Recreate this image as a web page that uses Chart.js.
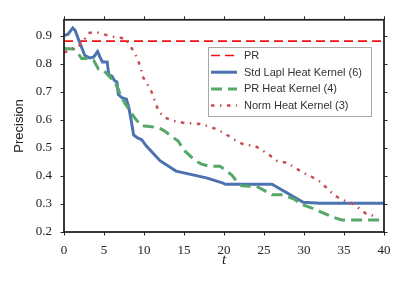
<!DOCTYPE html>
<html>
<head>
<meta charset="utf-8">
<script src="https://cdn.jsdelivr.net/npm/chart.js@4/dist/chart.umd.min.js"></script>
<style>
  html, body { margin: 0; padding: 0; background: #fff; }
  canvas { display: block; }
</style>
</head>
<body>
<canvas id="chart" width="405" height="292"></canvas>
<script>
"use strict";

// ─── Data ─────────────────────────────────────────────────────────────────

const xTicks = [0, 5, 10, 15, 20, 25, 30, 35, 40];
const yTicks = [0.2, 0.3, 0.4, 0.5, 0.6, 0.7, 0.8, 0.9];

const prT = [0, 40];
const prV = [0.88, 0.88];

const stdT = [0, 0.5, 1.1, 1.4, 1.8, 2.6, 3.2, 3.7, 4.2, 4.5, 4.8, 5.4, 5.6, 6.0, 6.3, 6.6, 6.8,
  7.2, 7.8, 8.1, 8.4, 8.7, 9.2, 9.7, 10.3, 12, 14, 17.8, 19.8, 20.2, 26, 29.9, 32, 40];
const stdV = [0.90, 0.905, 0.927, 0.918, 0.887, 0.829, 0.82, 0.823, 0.843, 0.823, 0.806, 0.806,
  0.76, 0.755, 0.74, 0.735, 0.69, 0.679, 0.673, 0.644, 0.598, 0.546, 0.535, 0.529, 0.506,
  0.454, 0.417, 0.393, 0.375, 0.37, 0.37, 0.306, 0.302, 0.302];

const prhkT = [0, 1.2, 1.8, 2.2, 3.0, 3.7, 4.3, 4.9, 5.75, 6.2, 6.8, 7.0, 7.6, 8.5, 8.9, 9.7, 10.5,
  11.8, 12.4, 13.5, 14.3, 14.9, 16.4, 17.2, 18.2, 19.5, 20.3, 21, 21.8, 22.2, 24.1, 25.3, 26,
  27.4, 28.9, 29.7, 31, 32, 33.7, 34.7, 40];
const prhkV = [0.854, 0.852, 0.835, 0.818, 0.818, 0.812, 0.781, 0.777, 0.752, 0.74, 0.708, 0.69,
  0.659, 0.621, 0.604, 0.578, 0.577, 0.571, 0.563, 0.54, 0.523, 0.494, 0.454, 0.442, 0.434,
  0.434, 0.419, 0.402, 0.373, 0.365, 0.362, 0.344, 0.333, 0.333, 0.315, 0.298, 0.285, 0.273,
  0.252, 0.243, 0.243];

const normT = [0, 0.5, 2, 3.2, 4.3, 5.5, 6.6, 7.6, 8.0, 8.9, 9.2, 9.6, 9.8, 10.4, 11, 11.4, 11.8,
  12.4, 13.7, 14.9, 17, 18.3, 19.5, 20.6, 21.5, 22.6, 23.8, 25.3, 26.8, 27.8, 29.1, 29.9, 31,
  32, 32.8, 33.7, 34.7, 35.9, 36.8, 37.8, 39.1];
const normV = [0.84, 0.845, 0.866, 0.91, 0.91, 0.9, 0.893, 0.89, 0.875, 0.835, 0.815, 0.785, 0.755,
  0.728, 0.696, 0.662, 0.633, 0.61, 0.596, 0.589, 0.585, 0.575, 0.56, 0.542, 0.525, 0.51,
  0.508, 0.482, 0.45, 0.448, 0.425, 0.411, 0.396, 0.379, 0.358, 0.333, 0.315, 0.304, 0.286,
  0.264, 0.255];

function pts(ts, vs) {
  return ts.map((t, i) => ({ x: t, y: vs[i] }));
}

// ─── Plugins: frame with outward ticks, and the boxed legend ──────────────

const FRAME = "#262626";
const SERIF = "'Liberation Serif', 'DejaVu Serif', serif";
const SANS = "'Liberation Sans', Arial, sans-serif";

const framePlugin = {
  id: "frame",
  afterDatasetsDraw(chart) {
    const { ctx, chartArea: a, scales } = chart;
    const len = 3.5;
    ctx.save();
    ctx.strokeStyle = FRAME;
    ctx.lineWidth = 1;
    ctx.beginPath();
    xTicks.forEach((v) => {
      const px = Math.round(scales.x.getPixelForValue(v)) + 0.5;
      ctx.moveTo(px, a.bottom); ctx.lineTo(px, a.bottom + len);
      ctx.moveTo(px, a.top); ctx.lineTo(px, a.top - len);
    });
    yTicks.forEach((v) => {
      const py = Math.round(scales.y.getPixelForValue(v)) + 0.5;
      ctx.moveTo(a.left, py); ctx.lineTo(a.left - len, py);
      ctx.moveTo(a.right, py); ctx.lineTo(a.right + len, py);
    });
    ctx.stroke();
    ctx.lineWidth = 1.8;
    ctx.strokeRect(a.left, a.top, a.right - a.left, a.bottom - a.top);
    ctx.restore();
  },
};

const legendPlugin = {
  id: "boxLegend",
  afterDraw(chart) {
    const { ctx } = chart;
    const box = { x: 208.5, y: 47.5, w: 163, h: 69 };
    ctx.save();
    ctx.fillStyle = "rgba(255,255,255,0.85)";
    ctx.fillRect(box.x, box.y, box.w, box.h);
    ctx.strokeStyle = "#a8a8a8";
    ctx.lineWidth = 1;
    ctx.strokeRect(box.x, box.y, box.w, box.h);
    ctx.font = `11px ${SANS}`;
    ctx.textBaseline = "middle";
    chart.data.datasets.forEach((ds, i) => {
      const y = 55.5 + i * 16.7;
      ctx.strokeStyle = ds.borderColor;
      ctx.lineWidth = ds.borderWidth;
      ctx.setLineDash(ds.borderDash || []);
      ctx.beginPath();
      ctx.moveTo(211, y);
      ctx.lineTo(237, y);
      ctx.stroke();
      ctx.setLineDash([]);
      ctx.fillStyle = "#333";
      ctx.fillText(ds.label, 244, y + 0.5);
    });
    ctx.restore();
  },
};

// ─── Chart ─────────────────────────────────────────────────────────────────

const LINE = { fill: false, tension: 0, pointRadius: 0, borderCapStyle: "butt" };

new Chart(document.getElementById("chart").getContext("2d"), {
  type: "line",
  data: {
    datasets: [
      { ...LINE, label: "PR", data: pts(prT, prV), borderColor: "#f21010",
        borderWidth: 1.6, borderDash: [9, 5], order: 4 },
      { ...LINE, label: "Std Lapl Heat Kernel (6)", data: pts(stdT, stdV), borderColor: "#4c72b0",
        borderWidth: 3, order: 3 },
      { ...LINE, label: "PR Heat Kernel (4)", data: pts(prhkT, prhkV), borderColor: "#55a868",
        borderWidth: 3, borderDash: [11, 6], order: 2 },
      { ...LINE, label: "Norm Heat Kernel (3)", data: pts(normT, normV), borderColor: "#c44e52",
        borderWidth: 2.5, borderDash: [3.5, 5.5, 1.5, 5.5], order: 1 },
    ],
  },
  options: {
    responsive: false,
    animation: false,
    devicePixelRatio: 1,
    layout: { padding: { left: 0, top: 13, right: 21, bottom: 0 } },
    plugins: { legend: { display: false }, tooltip: { enabled: false } },
    scales: {
      x: {
        type: "linear",
        min: 0,
        max: 40,
        afterBuildTicks: (s) => { s.ticks = xTicks.map((v) => ({ value: v })); },
        afterFit: (s) => { s.height = 60; },
        grid: { display: false, drawTicks: false },
        border: { display: false },
        ticks: { color: "#222", padding: 11, font: { family: SERIF, size: 13 },
          callback: (v) => String(v) },
        title: { display: true, text: "t", color: "#222", padding: { bottom: 23 },
          font: { family: SERIF, size: 15, style: "italic" } },
      },
      y: {
        type: "linear",
        min: 0.2,
        max: 0.956,
        afterBuildTicks: (s) => { s.ticks = yTicks.map((v) => ({ value: v })); },
        afterFit: (s) => { s.width = 64; },
        grid: { display: false, drawTicks: false },
        border: { display: false },
        ticks: { color: "#222", padding: 12, font: { family: SERIF, size: 13 },
          callback: (v) => v.toFixed(1) },
        title: { display: true, text: "Precision", color: "#222", padding: { top: 12 },
          font: { family: SANS, size: 13 } },
      },
    },
  },
  plugins: [framePlugin, legendPlugin],
});
</script>
</body>
</html>
